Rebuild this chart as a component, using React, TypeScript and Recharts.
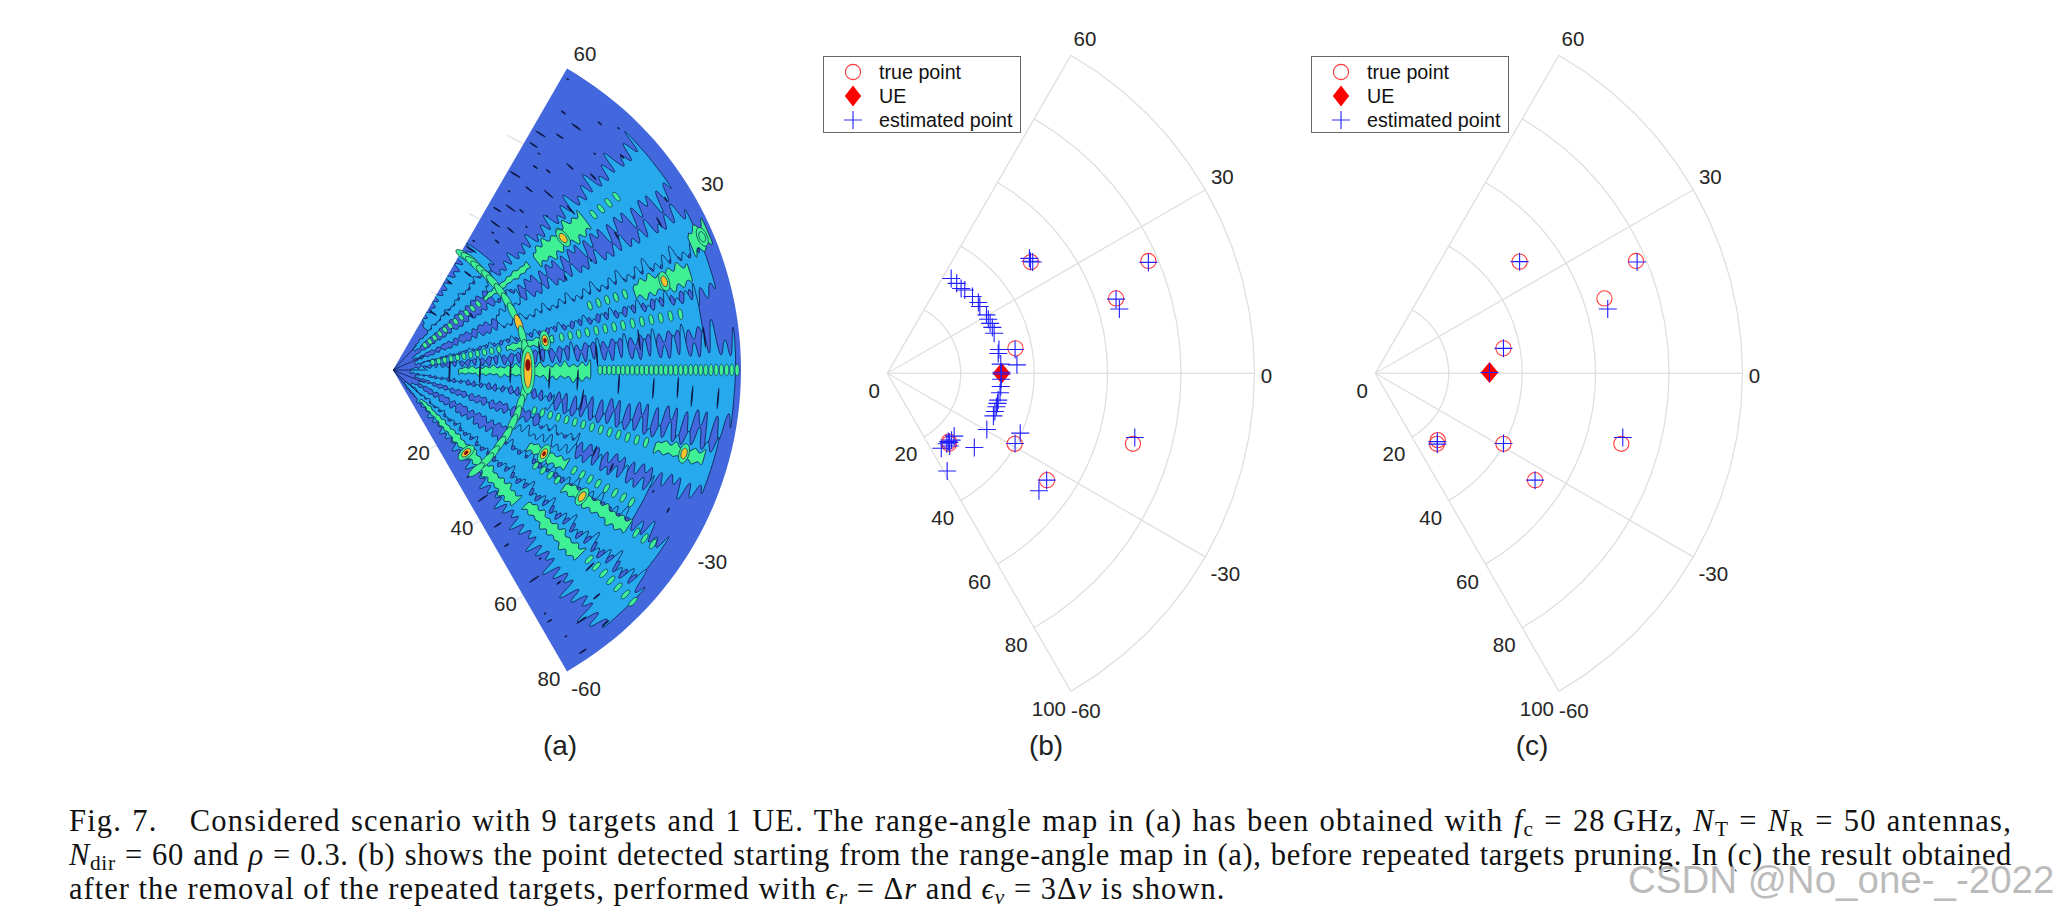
import React from "react";
import { ScatterChart, Scatter, XAxis, YAxis } from "recharts";

// panel (a): range-angle map, read by eye
const targetRange = [31, 35.6, 25.4, 49.5, 39.7, 52.3, 69.6, 65.6, 77.4];
const targetAngle = [0, 11, -48.5, 37.8, -29, -33.8, -16, 18.1, 23.3];
const fringeRanges = [
  4, 5.3, 6.6, 7.9, 9.3, 10.7, 12.1, 13.6, 15.1, 16.6, 18.2, 19.8, 21.4, 23.1, 24.8, 26.5, 28.3, 30.1, 31.9, 33.8,
  35.7, 37.6, 39.5, 41.5, 43.5, 45.5, 47.6, 49.7, 51.8, 53.9, 56.1, 58.3, 60.5, 62.7, 65, 67.3, 69.6, 71.9, 74.3,
  76.7, 79.1,
];
// angle, half width (deg), from range, to range
const cyanBands = [
  [52, 7, 12, 34],
  [44, 4, 6, 31],
  [38, 5.8, 28, 79],
  [30, 4, 5, 34],
  [24.5, 4.8, 26, 79],
  [18, 4.6, 5, 79],
  [10.5, 4.2, 6, 74],
  [-2.5, 8.6, 3, 80],
  [-14, 4, 5, 38],
  [-17.5, 5.2, 34, 79],
  [-24, 4, 6, 46],
  [-29, 5.2, 30, 66],
  [-37, 5.2, 5, 76],
  [-46, 5.8, 4, 78],
];
const greenBands = [
  [-0.5, 2.6, 14, 46],
  [-47, 2.4, 8, 42],
  [-45, 1.7, 42, 62],
  [37.8, 2.8, 40, 58],
  [37.8, 1.3, 26, 40],
  [11, 1.6, 26, 38],
  [-29, 1.8, 34, 46],
  [-34, 1.6, 46, 66],
  [-16, 1.3, 62, 76],
  [18.1, 2, 58, 72],
  [23.3, 2.2, 72, 80],
];
// ray angle, from range, to range
const greenChains = [
  [0, 46, 80],
  [37.8, 8, 26],
  [37.8, 58, 66],
  [11, 8, 26],
  [11, 38, 68],
  [-16, 32, 62],
  [-29, 46, 64],
  [-33.8, 38, 46],
  [-33.8, 66, 74],
  [-44, 62, 78],
  [18.1, 46, 58],
];
const ringAngles = [58, 55.5, 53, 50, 47, 44, 41, 36, 31, 26, 20, 15, 9, 5, -5, -10, -15, -20, -24, -30, -35, -40, -44, -50];
const ringRanges = [31, 31, 30.8, 30.6, 30.6, 30.6, 30.6, 30.6, 30.6, 30.6, 30.8, 30.8, 30.8, 30.8, 30.8, 30.6, 30.3, 30.3, 30.1, 30.1, 29.9, 29.9, 29.9, 29.9];
const speckRange = [
  78, 71, 66, 64, 60, 57, 52, 54, 50, 47, 44, 41, 35, 38, 62, 55, 68, 74, 42, 46, 49, 58, 64, 70, 76, 72, 61, 53, 45,
  74, 60, 70, 52, 45, 78, 72, 66, 62, 70, 58, 73, 68, 76, 64, 55, 48, 43, 36,
  66, 71, 55, 50, 30, 18, 13, 20, 27, 36, 42.5, 52, 60, 65.6, 69, 75, 34, 47, 57, 72, 44, 24, 28, 33, 39, 22, 16,
];
const speckAngle = [
  59, 56.5, 54.5, 58, 56, 55, 53, 48.5, 45, 51, 57, 55, 58, 51, 49, 42, 47, 50, 50, 54, 57, 52, 44, 53, 47, 43, 58, 58, 47,
  32, 31, 29, 29, 28, -56, -53, -58, -52, -48, -56, -57, -58, -50, -45, -52, -57, -56, -55,
  -25, -27, -24, -22, -55, 46, -1.5, -2, -1.5, -3, -3, -3.5, -4, -3.5, -5, -5, 7, 4, 7, 6, -9, 57, 52, 57, 54, 35, 55,
];
const fanAngles = [0, -22, -42, -50, 24, 46];

// panels (b) and (c): x and y in range units
const trueB = [[39.1, 30.3], [71.1, 30.6], [62.3, 20.4], [34.9, 6.8], [34.7, -19.2], [66.9, -19.2], [43.5, -29.1], [16.8, -18.6], [16.8, -19.2]];
const trueC = [[39.3, 30.4], [71, 30.6], [62.4, 20.4], [34.9, 6.8], [34.9, -19.2], [67, -19.2], [43.5, -29.1], [17, -18.2], [16.8, -19.2]];
const ueB = [[31.1, 0]];
const ueC = [[31.1, 0.2]];
const estB = [
  [38.7, 31.3], [39, 30.5], [39.6, 30.3], [71.1, 30.2], [62.3, 20.2], [63.2, 17.5], [34.8, 6.5], [35.3, 2.3], [36.2, -16.3],
  [34.8, -19.1], [67.4, -17.5], [43.4, -29.1], [41.3, -32], [27.1, -15.3], [23.7, -20.2], [16.3, -26.6],
  [18.2, -17.1], [17.5, -18.2], [16.9, -18.8], [16.2, -19.2], [16.6, -18.6], [14.7, -20.4], [17, -19.8],
  [17.4, 25.8], [18.9, 24.5], [20.1, 23.1], [21.1, 22.7], [23.2, 20.9], [24.8, 19.3], [25.2, 18.2], [27, 15.9], [27.5, 14.7],
  [28, 13.6], [28.6, 12.5], [29.1, 10.9], [30.4, 6.5], [30.2, 5.4], [30.9, 2.5], [31.1, 0.3], [31.1, -0.2], [31, -1.6],
  [30.9, -3.6], [30.7, -5.3], [30.2, -7.3], [30, -8.2], [29.7, -9.1], [29.3, -10.4], [28.9, -11.6],
];
const estC = [[39.3, 30.4], [71.3, 30.3], [63.3, 17.5], [34.9, 6.8], [31.1, 0.2], [34.9, -19.1], [67.4, -17.5], [43.5, -29.1], [16.9, -18.6], [16.9, -19.3]];

const angleTicks = [60, 30, 0, -30, -60];
const mapAngleTicks = [60, 30, -30, -60];
const rangeTicksFull = [0, 20, 40, 60, 80, 100];
const rangeTicksMap = [20, 40, 60, 80];
const gridRings = [20, 40, 60, 80, 100];
const legendNames = ["true point", "UE", "estimated point"];

const BLUE = "#4367dd";
const CYAN = "#27a9ee";
const GREEN = "#3ff094";
const YELLOW = "#f6c22e";
const DARK = "#0d1c4e";
const GRID = "#dfdfdf";
const LABEL = "#262626";

const rad = (d: number) => (d * Math.PI) / 180;
const polar = (r: number, deg: number) => ({ x: r * Math.cos(rad(deg)), y: r * Math.sin(rad(deg)) });
const xy = (rows: number[][]) => rows.map(([x, y]) => ({ x, y }));
const arcSteps = [-60, -55, -50, -45, -40, -35, -30, -25, -20, -15, -10, -5, 0, 5, 10, 15, 20, 25, 30, 35, 40, 45, 50, 55, 60];

const MAP = { left: 360, top: 20, width: 420, height: 700, apexX: 393, apexY: 370, k: 4.35 };
const B = { left: 800, top: 10, width: 480, height: 730, apexX: 887.3, apexY: 373.3, k: 3.672 };
const C = { ...B, left: 1288, apexX: 1375.3 };

const noShape = () => <g />;

function Circle({ cx, cy }: any) {
  return <circle cx={cx} cy={cy} r={7.6} fill="none" stroke="#ff3a3a" strokeWidth={1.1} />;
}
function Diamond({ cx, cy }: any) {
  return <path d={`M${cx} ${cy - 10.5}L${cx + 8.8} ${cy}L${cx} ${cy + 10.5}L${cx - 8.8} ${cy}Z`} fill="#ff0000" />;
}
function Plus({ cx, cy }: any) {
  return <path d={`M${cx - 9} ${cy}H${cx + 9}M${cx} ${cy - 9}V${cy + 9}`} stroke="#1f1fff" strokeWidth={1.1} fill="none" />;
}
function TickText({ cx, cy, payload }: any) {
  return (
    <text x={cx + payload.dx} y={cy + payload.dy} textAnchor="middle" dominantBaseline="central" fontFamily="Liberation Sans" fontSize={20.5} fill={LABEL}>
      {payload.text}
    </text>
  );
}

// offsets of the labels from the point they name
const angleOffset: Record<number, number[]> = { 60: [14, -17], 30: [17, -13], 0: [12, 2], [-30]: [20, 17], [-60]: [15, 19] };
const mapAngleOffset: Record<number, number[]> = { 60: [18, -15], 30: [18, -13], [-30]: [18, 17], [-60]: [19, 17] };
const angleLabels = (R: number, ticks: number[], off: Record<number, number[]>) =>
  ticks.map((a) => ({ ...polar(R, a), text: String(a), dx: off[a][0], dy: off[a][1] }));
const rangeLabels = (ticks: number[], dy: number) =>
  ticks.map((r) => ({ ...polar(r, -60), text: String(r), dx: r === 0 ? -13 : r === 100 ? -22 : -18, dy }));

function gridSeries(prefix: string) {
  return [
    ...gridRings.map((r) => (
      <Scatter key={`${prefix}r${r}`} data={arcSteps.map((a) => polar(r, a))} line={{ stroke: GRID, strokeWidth: 1.3 }} shape={noShape} isAnimationActive={false} />
    )),
    ...angleTicks.map((a) => (
      <Scatter key={`${prefix}a${a}`} data={[polar(0, a), polar(100, a)]} line={{ stroke: GRID, strokeWidth: 1.3 }} shape={noShape} isAnimationActive={false} />
    )),
  ];
}

function Panel({ box, children }: any) {
  const xDomain = [(box.left - box.apexX) / box.k, (box.left + box.width - box.apexX) / box.k];
  const yDomain = [(box.apexY - box.top - box.height) / box.k, (box.apexY - box.top) / box.k];
  return (
    <div style={{ position: "absolute", left: box.left, top: box.top }}>
      <ScatterChart width={box.width} height={box.height} margin={{ top: 0, right: 0, bottom: 0, left: 0 }}>
        <XAxis type="number" dataKey="x" domain={xDomain} hide allowDataOverflow />
        <YAxis type="number" dataKey="y" domain={yDomain} hide allowDataOverflow />
        {children}
      </ScatterChart>
    </div>
  );
}

function PointLegend({ left }: { left: number }) {
  const marks = [
    <circle key="c" cx={29} cy={15} r={7.6} fill="none" stroke="#ff3a3a" strokeWidth={1.1} />,
    <path key="d" d="M29 28.5L37.2 39L29 49.5L20.8 39Z" fill="#ff0000" />,
    <path key="p" d="M20 63H38M29 54V72" stroke="#3030ff" strokeWidth={1.2} fill="none" />,
  ];
  return (
    <div style={{ position: "absolute", left, top: 56, width: 198, height: 77, boxSizing: "border-box", border: "1.5px solid #666", background: "#fff" }}>
      <svg width={195} height={74} style={{ position: "absolute", left: 0, top: 0 }}>
        {marks}
        {legendNames.map((n, i) => (
          <text key={n} x={55} y={15 + i * 24} dominantBaseline="central" fontFamily="Liberation Sans" fontSize={19.7} fill="#111">
            {n}
          </text>
        ))}
      </svg>
    </div>
  );
}

const wedgePath = (cx: number, cy: number, R: number) => {
  const dx = R * Math.cos(rad(60));
  const dy = R * Math.sin(rad(60));
  return `M${cx} ${cy}L${cx + dx} ${cy - dy}A${R} ${R} 0 0 1 ${cx + dx} ${cy + dy}Z`;
};

// one contour band: scalloped edges following the fringes of the map
function bandPath(b: number[], cx: number, cy: number) {
  const [angle, half, r0, r1] = b;
  const at = (r: number, a: number) => [cx + MAP.k * r * Math.cos(rad(a)), cy - MAP.k * r * Math.sin(rad(a))];
  const fr = fringeRanges.filter((r) => r >= r0 && r <= r1);
  const edge: number[][] = [];
  const side = (sign: number, list: number[]) => {
    list.forEach((r, i) => {
      const next = list[i + 1] ?? r;
      const grow = 0.8 + 0.22 * ((i * 7) % 3);
      edge.push(at(r, angle + sign * half * 1.35 * grow));
      edge.push(at((r + next) / 2, angle + sign * half * 0.36));
    });
  };
  side(1, fr);
  side(-1, [...fr].reverse());
  const mid = (p: number[], q: number[]) => [(p[0] + q[0]) / 2, (p[1] + q[1]) / 2];
  let d = "";
  edge.forEach((p, i) => {
    const q = edge[(i + 1) % edge.length];
    const m = mid(p, q);
    d += i === 0 ? `M${m[0]} ${m[1]}` : `Q${p[0]} ${p[1]} ${m[0]} ${m[1]}`;
  });
  return d + "Z";
}

const Wedge = ({ cx, cy }: any) => <path d={wedgePath(cx, cy, 348)} fill={BLUE} />;
const makeBand = (fill: string, id: string) => ({ cx, cy, payload }: any) => (
  <g>
    <clipPath id={`${id}${payload.i}`}>
      <path d={wedgePath(cx, cy, 348)} />
    </clipPath>
    <path d={bandPath(payload.band, cx, cy)} fill={fill} stroke={DARK} strokeWidth={0.8} clipPath={`url(#${id}${payload.i})`} />
  </g>
);
const CyanBand = makeBand(CYAN, "cy");
const GreenBand = makeBand(GREEN, "gr");

const ChainLobe = ({ cx, cy, payload }: any) => (
  <ellipse cx={cx} cy={cy} rx={2.2} ry={2.6 + (payload.r / 80) * 3.4} transform={`rotate(${-payload.a} ${cx} ${cy})`} fill={GREEN} stroke={DARK} strokeWidth={0.6} />
);
const RingLobe = ({ cx, cy, payload }: any) => (
  <ellipse cx={cx} cy={cy} rx={3.4} ry={10} transform={`rotate(${-payload.a} ${cx} ${cy})`} fill={Math.abs(payload.a) < 6 || payload.a === 20 ? YELLOW : GREEN} stroke={DARK} strokeWidth={0.6} />
);
const Speck = ({ cx, cy, payload }: any) => (
  <ellipse cx={cx} cy={cy} rx={0.9} ry={payload.a > -10 && payload.a < 8 ? 11 : 1.5 + (payload.i % 4) * 1.6} transform={`rotate(${-payload.a} ${cx} ${cy})`} fill="#101a48" />
);
const Target = ({ cx, cy, payload }: any) => {
  const big = payload.i === 0;
  const rot = `rotate(${-payload.a} ${cx} ${cy})`;
  return (
    <g transform={rot}>
      <ellipse cx={cx} cy={cy} rx={big ? 7 : 5} ry={big ? 24 : 10} fill={GREEN} stroke={DARK} strokeWidth={0.6} />
      <ellipse cx={cx} cy={cy} rx={big ? 4 : 3} ry={big ? 18 : 5.5} fill={payload.i === 8 ? GREEN : YELLOW} stroke={DARK} strokeWidth={0.6} />
      {payload.i < 3 || payload.i === 4 ? <ellipse cx={cx} cy={cy - (big ? 5 : 0)} rx={big ? 2.6 : 1.7} ry={big ? 6 : 2.5} fill="#8b0a0a" /> : null}
    </g>
  );
};

const lobeRows = (chains: number[][]) =>
  chains.flatMap(([a, r0, r1]) => {
    const rows = fringeRanges.filter((r) => r >= r0 && r <= r1);
    if (a !== 0) return rows.map((v) => ({ ...polar(v, a), r: v, a }));
    return rows.flatMap((r, i) => {
      const next = rows[i + 1];
      const both = next ? [r, (r + next) / 2] : [r];
      return both.map((v) => ({ ...polar(v, a), r: v, a }));
    });
  });

const apexRow = (bands: number[][]) => bands.map((band, i) => ({ x: 0, y: 0, band, i }));

function MapPanel() {
  return (
    <Panel box={MAP}>
      {[20, 40, 60].flatMap((r) =>
        [[60, 64], [-60, -64]].map(([a0, a1]) => (
          <Scatter key={`stub${r}${a0}`} data={[polar(r, a0), polar(r, a1)]} line={{ stroke: GRID, strokeWidth: 1.2 }} shape={noShape} isAnimationActive={false} />
        ))
      )}
      <Scatter data={[{ x: 0, y: 0 }]} shape={Wedge} isAnimationActive={false} />
      <Scatter data={apexRow(cyanBands)} shape={CyanBand} isAnimationActive={false} />
      <Scatter data={apexRow(greenBands)} shape={GreenBand} isAnimationActive={false} />
      <Scatter data={speckRange.map((r, i) => ({ ...polar(r, speckAngle[i]), a: speckAngle[i], i }))} shape={Speck} isAnimationActive={false} />
      {fanAngles.map((a) => (
        <Scatter key={`fan${a}`} data={[polar(0, a), polar(8, a)]} line={{ stroke: DARK, strokeWidth: 0.8 }} shape={noShape} isAnimationActive={false} />
      ))}
      <Scatter data={lobeRows(greenChains)} shape={ChainLobe} isAnimationActive={false} />
      <Scatter data={ringAngles.map((a, i) => ({ ...polar(ringRanges[i], a), a }))} shape={RingLobe} isAnimationActive={false} />
      <Scatter data={targetRange.map((r, i) => ({ ...polar(r, targetAngle[i]), a: targetAngle[i], i }))} shape={Target} isAnimationActive={false} />
      <Scatter data={angleLabels(80, mapAngleTicks, mapAngleOffset)} shape={TickText} isAnimationActive={false} />
      <Scatter data={rangeLabels(rangeTicksMap, 7)} shape={TickText} isAnimationActive={false} />
    </Panel>
  );
}

function PointPanel({ box, trues, ue, est, id }: any) {
  return (
    <Panel box={box}>
      {gridSeries(id)}
      <Scatter data={xy(trues)} shape={Circle} isAnimationActive={false} />
      <Scatter data={xy(ue)} shape={Diamond} isAnimationActive={false} />
      <Scatter data={xy(est)} shape={Plus} isAnimationActive={false} />
      <Scatter data={angleLabels(100, angleTicks, angleOffset)} shape={TickText} isAnimationActive={false} />
      <Scatter data={rangeLabels(rangeTicksFull, 17)} shape={TickText} isAnimationActive={false} />
    </Panel>
  );
}

const subStyle: React.CSSProperties = { fontSize: "0.7em", lineHeight: 0, verticalAlign: "-0.25em", fontStyle: "normal" };
const captionLine = (top: number, justify: boolean, spacing: number): React.CSSProperties => ({
  position: "absolute",
  left: 69,
  top,
  width: 1943,
  fontFamily: "Liberation Serif",
  fontSize: 30.5,
  letterSpacing: spacing,
  lineHeight: "34px",
  color: "#111",
  whiteSpace: justify ? "normal" : "nowrap",
  textAlign: "justify",
  textAlignLast: justify ? "justify" : "left",
});
const subLabel = (left: number): React.CSSProperties => ({
  position: "absolute",
  left,
  top: 729,
  width: 60,
  textAlign: "center",
  fontFamily: "Liberation Sans",
  fontSize: 28,
  lineHeight: "34px",
  color: "#222",
});

export default function App() {
  return (
    <div style={{ position: "absolute", left: 0, top: 0, width: 2061, height: 915, background: "#fff", overflow: "hidden" }}>
      <MapPanel />
      <PointPanel box={B} trues={trueB} ue={ueB} est={estB} id="b" />
      <PointPanel box={C} trues={trueC} ue={ueC} est={estC} id="c" />
      <PointLegend left={823} />
      <PointLegend left={1311} />
      <div style={subLabel(530)}>(a)</div>
      <div style={subLabel(1016)}>(b)</div>
      <div style={subLabel(1502)}>(c)</div>
      <div style={captionLine(804, true, 1.2)}>
        Fig. 7.<span style={{ display: "inline-block", width: 22 }} /> Considered scenario with 9 targets and 1 UE. The range-angle map in (a) has been obtained with <i>f</i>
        <sub style={subStyle}>c</sub> = 28&#8201;GHz, <i>N</i>
        <sub style={subStyle}>T</sub> = <i>N</i>
        <sub style={subStyle}>R</sub> = 50 antennas,
      </div>
      <div style={captionLine(838, true, 0.65)}>
        <i>N</i>
        <sub style={subStyle}>dir</sub> = 60 and <i>ρ</i> = 0.3. (b) shows the point detected starting from the range-angle map in (a), before repeated targets pruning. In (c) the result obtained
      </div>
      <div style={captionLine(872, false, 1.02)}>
        after the removal of the repeated targets, performed with <i>ϵ</i>
        <sub style={subStyle}><i>r</i></sub> = Δ<i>r</i> and <i>ϵ</i>
        <sub style={subStyle}><i>v</i></sub> = 3Δ<i>v</i> is shown.
      </div>
      <div
        style={{
          position: "absolute",
          left: 1628,
          top: 858,
          fontFamily: "Liberation Sans",
          fontSize: 38.5,
          lineHeight: "44px",
          color: "rgba(165,165,165,0.75)",
          textShadow: "1px 1px 1px rgba(255,255,255,0.9)",
          whiteSpace: "nowrap",
        }}
      >
        CSDN @No_one-_-2022
      </div>
    </div>
  );
}
